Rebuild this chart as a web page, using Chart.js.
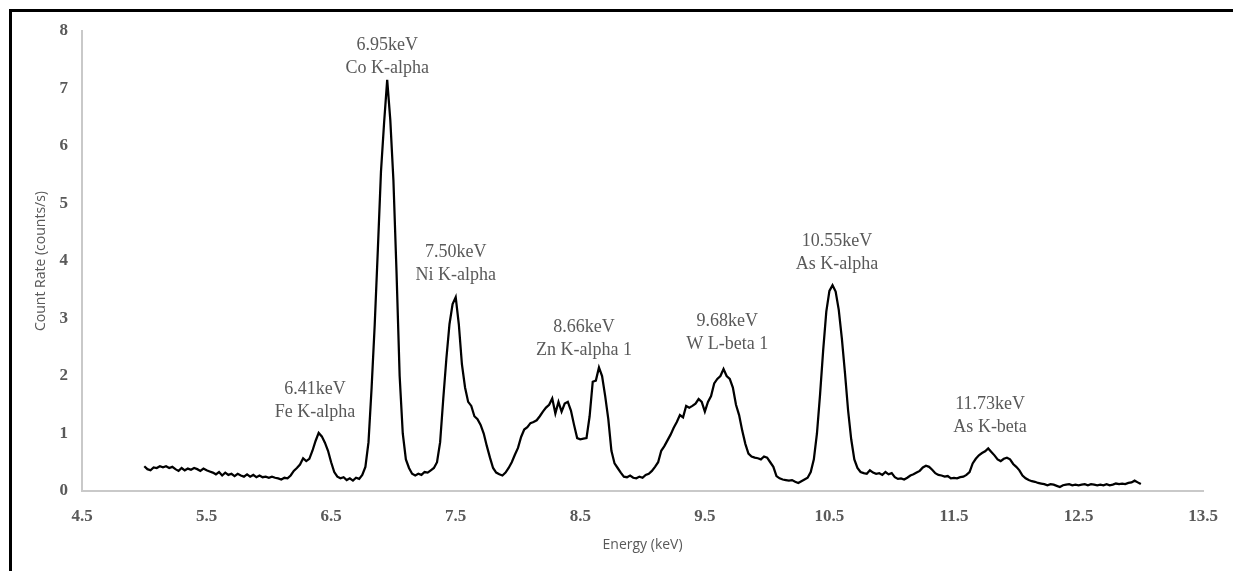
<!DOCTYPE html>
<html lang="en">
<head>
<meta charset="UTF-8">
<title>XRF Spectrum</title>
<script src="https://cdn.jsdelivr.net/npm/chart.js@4.4.1/dist/chart.umd.min.js"></script>
<style>
  html, body { margin: 0; padding: 0; background: #fff; }
  #wrap { position: relative; width: 1233px; height: 571px; overflow: hidden; }
  #frame { position: absolute; left: 9px; top: 9px; width: 1300px; height: 600px; border-top: 3px solid #000; border-left: 3px solid #000; }
  #chart { position: absolute; left: 0; top: 0; }
</style>
</head>
<body>
<div id="wrap">
  <div id="frame"></div>
  <canvas id="chart" width="1233" height="571"></canvas>
</div>
<script>
// spectrum sampled every 0.025 keV from 5.0 keV (one row = 0.5 keV)
const energyStart = 5.0;
const energyStep = 0.025;
const countRate = [
  0.43,0.38,0.36,0.41,0.40,0.43,0.41,0.43,0.40,0.42,0.38,0.35,0.40,0.36,0.39,0.37,0.40,0.38,0.35,0.39,
  0.36,0.34,0.32,0.29,0.33,0.27,0.32,0.28,0.30,0.26,0.30,0.27,0.25,0.29,0.25,0.28,0.24,0.27,0.24,0.25,
  0.23,0.25,0.23,0.22,0.20,0.23,0.22,0.27,0.35,0.40,0.46,0.57,0.52,0.56,0.70,0.87,1.01,0.95,0.84,0.70,
  0.50,0.33,0.25,0.22,0.24,0.19,0.22,0.18,0.23,0.21,0.28,0.42,0.85,1.80,2.90,4.20,5.55,6.40,7.15,6.45,
  5.40,3.80,2.00,1.00,0.55,0.40,0.30,0.27,0.30,0.28,0.33,0.32,0.36,0.40,0.50,0.85,1.60,2.30,2.90,3.25,
  3.37,2.90,2.20,1.80,1.55,1.48,1.30,1.25,1.15,1.00,0.78,0.58,0.40,0.32,0.29,0.27,0.32,0.40,0.50,0.63,
  0.75,0.94,1.07,1.11,1.18,1.20,1.23,1.30,1.38,1.45,1.50,1.61,1.35,1.55,1.38,1.52,1.55,1.40,1.15,0.92,
  0.90,0.91,0.92,1.30,1.90,1.92,2.15,2.00,1.65,1.25,0.70,0.48,0.40,0.32,0.25,0.24,0.27,0.23,0.22,0.25,
  0.23,0.28,0.30,0.35,0.42,0.50,0.70,0.78,0.88,0.98,1.10,1.20,1.32,1.28,1.48,1.45,1.48,1.52,1.60,1.55,
  1.38,1.55,1.65,1.87,1.95,2.00,2.12,2.00,1.95,1.80,1.50,1.32,1.05,0.82,0.65,0.60,0.58,0.57,0.55,0.60,
  0.58,0.50,0.42,0.26,0.22,0.20,0.19,0.18,0.19,0.16,0.14,0.17,0.20,0.23,0.33,0.55,1.00,1.68,2.45,3.12,
  3.48,3.58,3.47,3.15,2.65,2.05,1.40,0.90,0.55,0.40,0.33,0.31,0.30,0.36,0.32,0.30,0.31,0.28,0.33,0.29,
  0.31,0.24,0.21,0.22,0.20,0.23,0.27,0.29,0.32,0.35,0.41,0.44,0.42,0.37,0.31,0.28,0.27,0.25,0.26,0.22,
  0.23,0.22,0.24,0.25,0.28,0.33,0.48,0.56,0.62,0.66,0.69,0.74,0.68,0.62,0.55,0.52,0.56,0.58,0.55,0.47,
  0.42,0.36,0.27,0.22,0.19,0.17,0.16,0.14,0.13,0.12,0.10,0.12,0.11,0.09,0.07,0.10,0.11,0.12,0.10,0.11,
  0.10,0.11,0.12,0.10,0.12,0.11,0.10,0.11,0.10,0.12,0.10,0.11,0.13,0.12,0.13,0.12,0.14,0.15,0.18,0.15,
  0.12
];

const xTicks = [4.5, 5.5, 6.5, 7.5, 8.5, 9.5, 10.5, 11.5, 12.5, 13.5];
const yTicks = [0, 1, 2, 3, 4, 5, 6, 7, 8];

// peak annotations
const labelLine1 = ['6.41keV', '6.95keV', '7.50keV', '8.66keV', '9.68keV', '10.55keV', '11.73keV'];
const labelLine2 = ['Fe K-alpha', 'Co K-alpha', 'Ni K-alpha', 'Zn K-alpha 1', 'W L-beta 1', 'As K-alpha', 'As K-beta'];
const labelEnergy = [6.37, 6.95, 7.50, 8.53, 9.68, 10.56, 11.79];
const labelCount = [1.37, 7.35, 3.75, 2.45, 2.56, 3.95, 1.11];

const points = countRate.map(function (c, i) {
  return { x: energyStart + i * energyStep, y: c };
});

const peakLabels = {
  id: 'peakLabels',
  afterDatasetsDraw(chart) {
    const ctx = chart.ctx;
    const xs = chart.scales.x, ys = chart.scales.y;
    ctx.save();
    ctx.font = '18px "Liberation Serif", "Times New Roman", serif';
    ctx.fillStyle = '#595959';
    ctx.textAlign = 'center';
    ctx.textBaseline = 'middle';
    for (let i = 0; i < labelLine1.length; i++) {
      const px = xs.getPixelForValue(labelEnergy[i]);
      const py = ys.getPixelForValue(labelCount[i]);
      ctx.fillText(labelLine1[i], px, py - 23);
      ctx.fillText(labelLine2[i], px, py);
    }
    ctx.restore();
  }
};

const tickFont = { family: '"Liberation Serif", "Times New Roman", serif', size: 17, weight: 'bold' };
const titleFont = { family: '"Open Sans", "Liberation Sans", sans-serif', size: 14 };

new Chart(document.getElementById('chart').getContext('2d'), {
  type: 'line',
  data: {
    datasets: [{
      data: points,
      borderColor: '#000',
      borderWidth: 2.25,
      pointRadius: 0,
      tension: 0,
      fill: false
    }]
  },
  options: {
    responsive: false,
    animation: false,
    layout: { padding: { top: 31, right: 23, left: 0, bottom: 0 } },
    plugins: { legend: { display: false }, tooltip: { enabled: false } },
    scales: {
      x: {
        type: 'linear',
        min: 4.5,
        max: 13.5,
        afterBuildTicks: function (scale) { scale.ticks = xTicks.map(v => ({ value: v })); },
        afterFit: function (scale) { scale.height = 80; },
        grid: { display: false, drawTicks: false },
        border: { display: true, color: '#c9c9c9', width: 2 },
        ticks: { font: tickFont, color: '#595959', padding: 15, maxRotation: 0,
                 callback: v => v.toFixed(1) },
        title: { display: true, text: 'Energy (keV)', font: titleFont, color: '#595959',
                 padding: { top: 0, bottom: 18 } }
      },
      y: {
        min: 0,
        max: 8,
        afterBuildTicks: function (scale) { scale.ticks = yTicks.map(v => ({ value: v })); },
        afterFit: function (scale) { scale.width = 82; },
        grid: { display: false, drawTicks: false },
        border: { display: true, color: '#c9c9c9', width: 2 },
        ticks: { font: tickFont, color: '#595959', padding: 14 },
        title: { display: true, text: 'Count Rate (counts/s)', font: titleFont, color: '#595959',
                 padding: { top: 33, bottom: 0 } }
      }
    }
  },
  plugins: [peakLabels]
});
</script>
</body>
</html>
